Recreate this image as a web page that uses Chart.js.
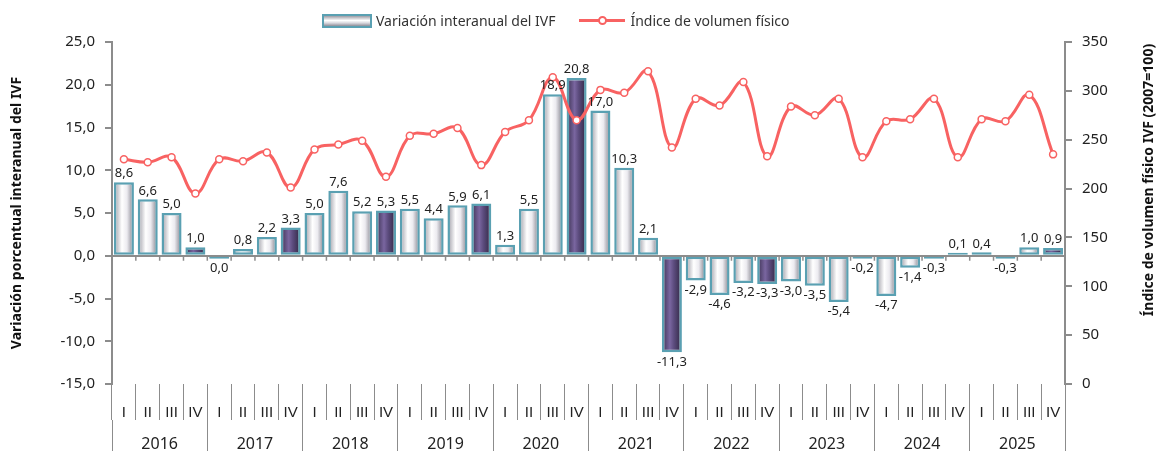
<!DOCTYPE html>
<html lang="es">
<head>
<meta charset="utf-8">
<title>IVF</title>
<script src="https://cdn.jsdelivr.net/npm/chart.js@4.4.1/dist/chart.umd.min.js"></script>
<style>
    html, body { margin: 0; padding: 0; background: #fff; }
    #wrap { position: relative; width: 1158px; height: 451px; }
    #legend {
        position: absolute; top: 11px; left: 322px;
        display: flex; align-items: center;
        font-family: 'Noto Sans', sans-serif; font-size: 14px; color: #333;
    }
    .caja {
        width: 46px; height: 10px; margin-right: 4px;
        border: 2px solid #5aa0b2;
        background: linear-gradient(to bottom, #9d9ca5, #ffffff 45%, #d9d8de 70%, #8f8e98);
    }
    .linea { position: relative; width: 46px; height: 3px; background: #f86262; margin: 0 5px 0 24px; }
    .linea span {
        position: absolute; left: 19px; top: -3px; width: 5px; height: 5px;
        border: 2px solid #f86262; border-radius: 50%; background: #fff;
    }
</style>
</head>
<body>
<div id="wrap">
    <canvas id="grafico" width="1158" height="451"></canvas>
    <div id="legend">
        <div class="caja"></div><span>Variación interanual del IVF</span>
        <div class="linea"><span></span></div><span>Índice de volumen físico</span>
    </div>
</div>
<script>
const years = ['2016', '2017', '2018', '2019', '2020', '2021', '2022', '2023', '2024', '2025'];
const quarters = ['I', 'II', 'III', 'IV'];

// variación interanual (%), eje izquierdo
const variacion = [
    8.6, 6.6, 5.0, 1.0,
    -0.04, 0.8, 2.2, 3.3,
    5.0, 7.6, 5.2, 5.3,
    5.5, 4.4, 5.9, 6.1,
    1.3, 5.5, 18.9, 20.8,
    17.0, 10.3, 2.1, -11.3,
    -2.9, -4.6, -3.2, -3.3,
    -3.0, -3.5, -5.4, -0.2,
    -4.7, -1.4, -0.3, 0.1,
    0.4, -0.3, 1.0, 0.9
];

// índice de volumen físico (2007=100), eje derecho
const indice = [
    230, 227, 232, 195,
    230, 228, 237, 201,
    240, 245, 249, 212,
    254, 256, 262, 224,
    258, 270, 314, 270,
    301, 298, 320, 242,
    292, 285, 309, 233,
    284, 275, 292, 232,
    269, 271, 292, 232,
    271, 269, 296, 235
];

const labels = years.flatMap(y => quarters.map(q => y + ' ' + q));
const gris = '#8c8c8c';

Chart.defaults.font.family = "'Noto Sans', sans-serif";
Chart.defaults.color = '#222';

function fmt(v) {
    if (Math.abs(v) < 0.05) return '0,0';
    return v.toFixed(1).replace('.', ',');
}

function relleno(context) {
    const chart = context.chart;
    const i = context.dataIndex;
    const oscuro = i % 4 === 3;
    if (!chart.chartArea || context.type !== 'data') return oscuro ? '#5b4a7e' : '#e8e8ee';
    const cx = chart.scales.x.getPixelForValue(i);
    const g = chart.ctx.createLinearGradient(cx - 10, 0, cx + 10, 0);
    if (oscuro) {
        g.addColorStop(0, '#3a3050');
        g.addColorStop(0.4, '#7a66a0');
        g.addColorStop(0.6, '#5c4c7e');
        g.addColorStop(1, '#2e2540');
    } else {
        g.addColorStop(0, '#9a99a3');
        g.addColorStop(0.4, '#ffffff');
        g.addColorStop(0.65, '#ecebf0');
        g.addColorStop(1, '#7d7c87');
    }
    return g;
}

const extras = {
    id: 'extras',
    afterDatasetsDraw(chart) {
        const ctx = chart.ctx;
        const xs = chart.scales.x;
        const y0 = chart.scales.y.getPixelForValue(0);
        const paso = xs.width / labels.length;

        // marcas sobre la línea del cero
        ctx.save();
        ctx.strokeStyle = gris;
        ctx.lineWidth = 1.5;
        for (let i = 0; i <= labels.length; i++) {
            const x = xs.left + i * paso;
            ctx.beginPath();
            ctx.moveTo(x, y0);
            ctx.lineTo(x, y0 + 5);
            ctx.stroke();
        }

        // etiquetas de las barras
        ctx.font = "13px 'Noto Sans', sans-serif";
        ctx.fillStyle = '#222';
        ctx.textAlign = 'center';
        chart.getDatasetMeta(0).data.forEach((bar, i) => {
            const v = variacion[i];
            if (v >= 0) {
                ctx.textBaseline = 'bottom';
                ctx.fillText(fmt(v), bar.x, bar.y - 2);
            } else {
                ctx.textBaseline = 'top';
                ctx.fillText(fmt(v), bar.x, bar.y + 3);
            }
        });

        // título del eje derecho, leído de abajo hacia arriba
        ctx.translate(1149, 180);
        ctx.rotate(-Math.PI / 2);
        ctx.font = "bold 14px 'Noto Sans', sans-serif";
        ctx.fillStyle = '#111';
        ctx.textBaseline = 'middle';
        ctx.fillText('Índice de volumen físico IVF (2007=100)', 0, 0);
        ctx.restore();
    }
};

new Chart(document.getElementById('grafico'), {
    data: {
        labels: labels,
        datasets: [{
            type: 'bar',
            label: 'Variación interanual del IVF',
            data: variacion,
            yAxisID: 'y',
            xAxisID: 'x',
            backgroundColor: relleno,
            borderColor: '#5aa0b2',
            borderWidth: 2.5,
            borderSkipped: false,
            barPercentage: 0.84,
            categoryPercentage: 1,
            minBarLength: 3,
            order: 1
        }, {
            type: 'line',
            label: 'Índice de volumen físico',
            data: indice,
            yAxisID: 'y1',
            xAxisID: 'x',
            borderColor: '#f86262',
            borderWidth: 3,
            tension: 0.4,
            pointRadius: 3.5,
            pointBackgroundColor: '#fff',
            pointBorderColor: '#f86262',
            pointBorderWidth: 1.5,
            order: 0
        }]
    },
    options: {
        responsive: false,
        animation: false,
        devicePixelRatio: 1,
        layout: { padding: { top: 42, left: 0, right: 0, bottom: 0 } },
        plugins: {
            legend: { display: false },
            tooltip: { enabled: false }
        },
        scales: {
            x: {
                type: 'category',
                position: 'bottom',
                offset: true,
                grid: { offset: true, drawOnChartArea: false, tickLength: 36, color: gris, lineWidth: 1 },
                border: { display: false },
                ticks: {
                    autoSkip: false, maxRotation: 0, padding: -16,
                    font: { size: 15, family: "'Liberation Sans', sans-serif" }, color: '#222',
                    callback: (v, i) => quarters[i % 4]
                },
                afterFit: s => { s.height = 36; }
            },
            xYear: {
                type: 'category',
                labels: years,
                position: 'bottom',
                offset: true,
                grid: { offset: true, drawOnChartArea: false, tickLength: 31, color: gris, lineWidth: 1 },
                border: { display: false },
                ticks: { autoSkip: false, maxRotation: 0, padding: -16, font: { size: 16 }, color: '#222' },
                afterFit: s => { s.height = 31; }
            },
            y: {
                position: 'left',
                min: -15,
                max: 25,
                ticks: {
                    stepSize: 5, padding: 10,
                    font: { size: 15 }, color: '#222',
                    callback: v => fmt(v)
                },
                grid: {
                    drawOnChartArea: true,
                    color: c => (c.tick && c.tick.value === 0 ? gris : 'rgba(0,0,0,0)'),
                    tickColor: gris,
                    tickLength: 7,
                    lineWidth: 2
                },
                border: { color: gris, width: 2 },
                title: {
                    display: true,
                    text: 'Variación porcentual interanual del IVF',
                    font: { size: 14, weight: 'bold' },
                    color: '#111',
                    padding: { top: 9, bottom: 0 }
                },
                afterFit: s => { s.width = 112; }
            },
            y1: {
                position: 'right',
                min: 0,
                max: 350,
                ticks: { stepSize: 50, padding: 10, font: { size: 15 }, color: '#222' },
                grid: { drawOnChartArea: false, tickLength: 7, color: gris, lineWidth: 2 },
                border: { color: gris, width: 2 },
                afterFit: s => { s.width = 93; }
            }
        }
    },
    plugins: [extras]
});
</script>
</body>
</html>
